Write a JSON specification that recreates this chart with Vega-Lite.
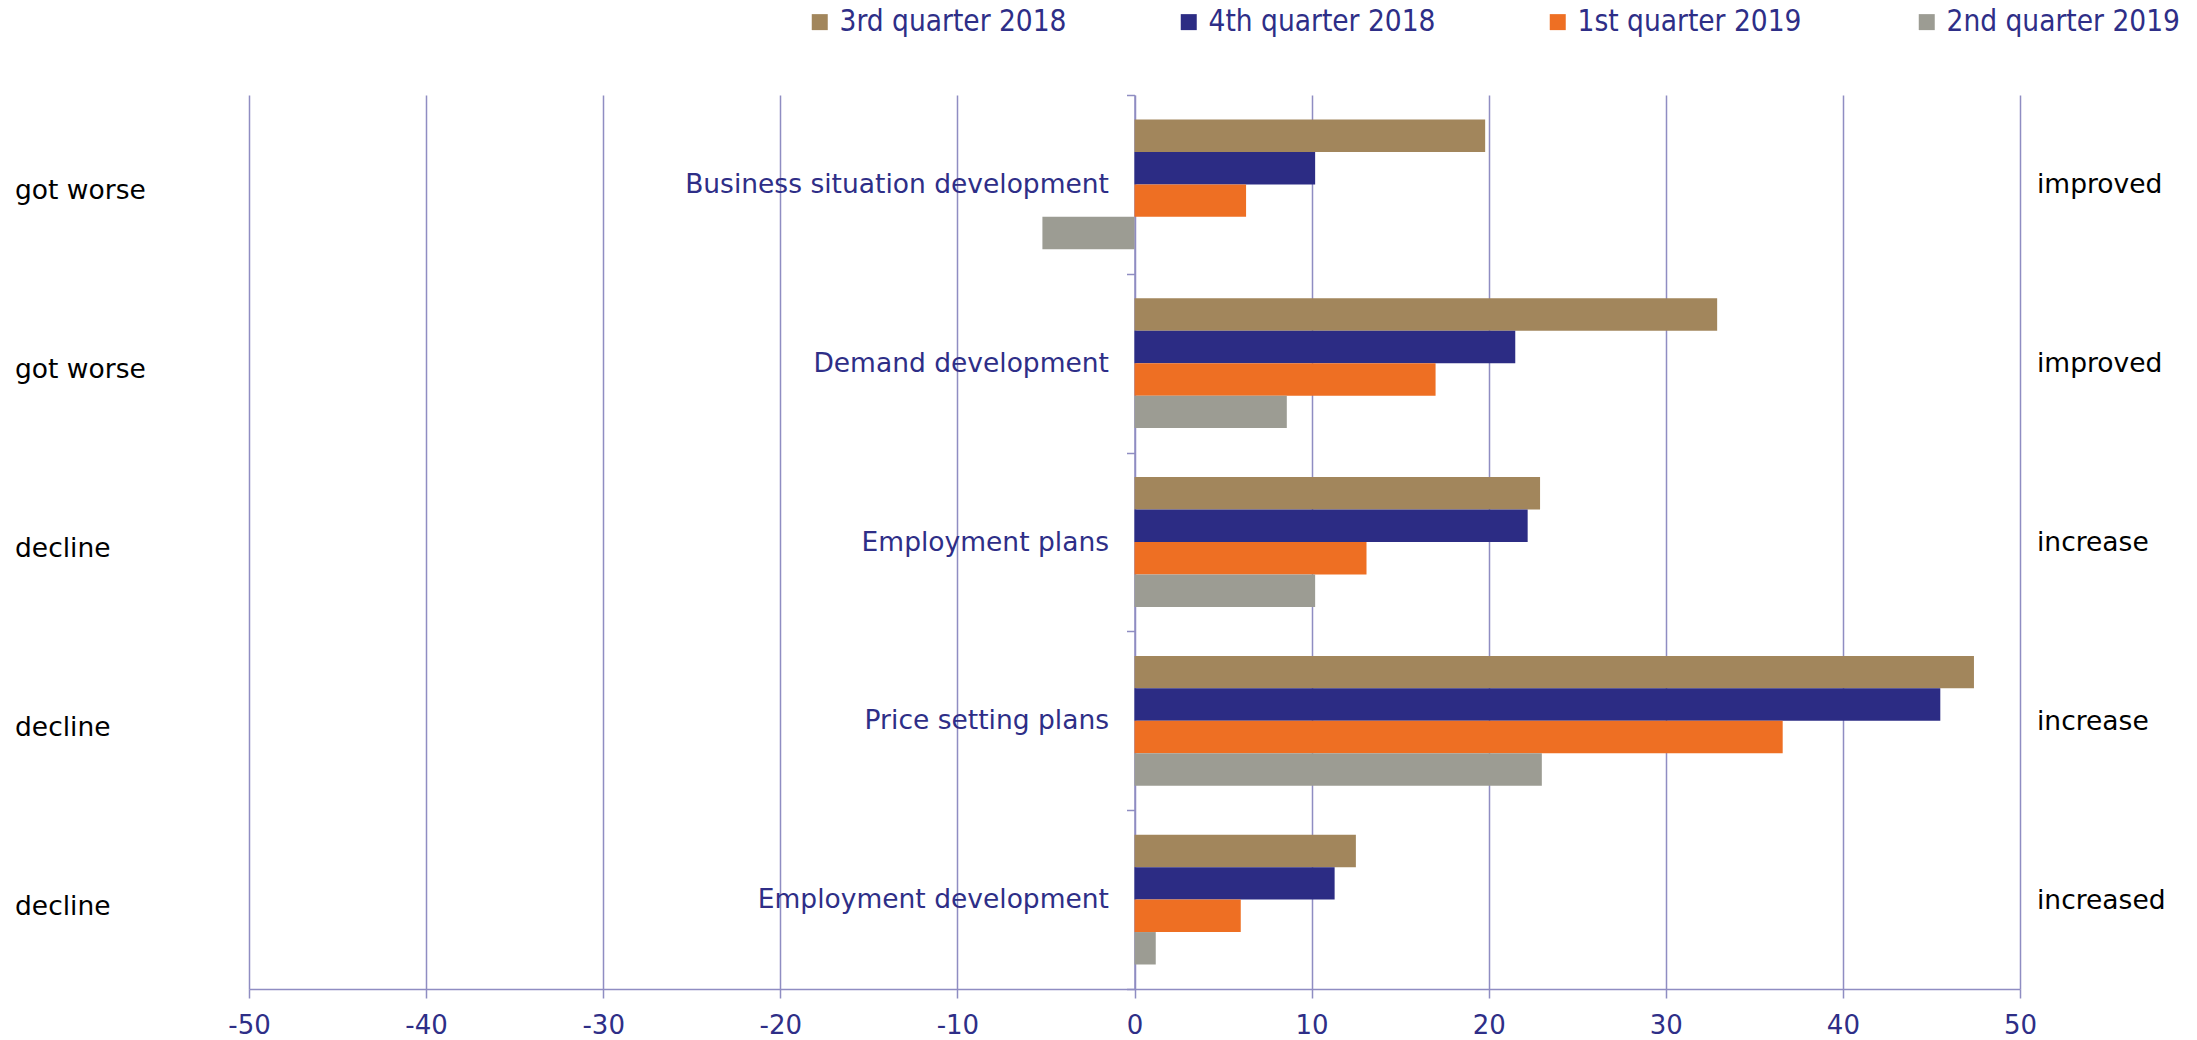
{
  "$schema": "https://vega.github.io/schema/vega-lite/v6.json",
  "autosize": {"type": "none"},
  "padding": {"left": 249, "top": 95, "right": 177, "bottom": 51},
  "width": 1771,
  "height": 894,
  "background": "white",
  "config": {"view": {"stroke": null}, "font": "DejaVu Sans"},
  "datasets": {
    "bars": [
      {"category": "Business situation development", "quarter": "3rd quarter 2018", "value": 19.8},
      {"category": "Business situation development", "quarter": "4th quarter 2018", "value": 10.2},
      {"category": "Business situation development", "quarter": "1st quarter 2019", "value": 6.3},
      {"category": "Business situation development", "quarter": "2nd quarter 2019", "value": -5.2},
      {"category": "Demand development", "quarter": "3rd quarter 2018", "value": 32.9},
      {"category": "Demand development", "quarter": "4th quarter 2018", "value": 21.5},
      {"category": "Demand development", "quarter": "1st quarter 2019", "value": 17.0},
      {"category": "Demand development", "quarter": "2nd quarter 2019", "value": 8.6},
      {"category": "Employment plans", "quarter": "3rd quarter 2018", "value": 22.9},
      {"category": "Employment plans", "quarter": "4th quarter 2018", "value": 22.2},
      {"category": "Employment plans", "quarter": "1st quarter 2019", "value": 13.1},
      {"category": "Employment plans", "quarter": "2nd quarter 2019", "value": 10.2},
      {"category": "Price setting plans", "quarter": "3rd quarter 2018", "value": 47.4},
      {"category": "Price setting plans", "quarter": "4th quarter 2018", "value": 45.5},
      {"category": "Price setting plans", "quarter": "1st quarter 2019", "value": 36.6},
      {"category": "Price setting plans", "quarter": "2nd quarter 2019", "value": 23.0},
      {"category": "Employment development", "quarter": "3rd quarter 2018", "value": 12.5},
      {"category": "Employment development", "quarter": "4th quarter 2018", "value": 11.3},
      {"category": "Employment development", "quarter": "1st quarter 2019", "value": 6.0},
      {"category": "Employment development", "quarter": "2nd quarter 2019", "value": 1.2}
    ],
    "sides": [
      {"category": "Business situation development", "left": "got worse", "right": "improved"},
      {"category": "Demand development", "left": "got worse", "right": "improved"},
      {"category": "Employment plans", "left": "decline", "right": "increase"},
      {"category": "Price setting plans", "left": "decline", "right": "increase"},
      {"category": "Employment development", "left": "decline", "right": "increased"}
    ]
  },
  "encoding": {
    "y": {
      "field": "category",
      "type": "nominal",
      "sort": ["Business situation development", "Demand development", "Employment plans", "Price setting plans", "Employment development"],
      "scale": {"paddingInner": 0, "paddingOuter": 0},
      "axis": {
        "title": null,
        "orient": "left",
        "offset": -885.5,
        "grid": false,
        "domainColor": "#8F8DC2",
        "domainWidth": 1.5,
        "tickColor": "#8F8DC2",
        "tickWidth": 1.5,
        "tickSize": 8,
        "tickBand": "extent",
        "labelColor": "#2E2E87",
        "labelFont": "DejaVu Sans",
        "labelFontSize": 26.5,
        "labelPadding": 18,
        "labelLimit": 0
      }
    }
  },
  "layer": [
    {
      "data": {"name": "bars"},
      "mark": {"type": "bar"},
      "encoding": {
        "yOffset": {
          "field": "quarter",
          "type": "nominal",
          "sort": ["3rd quarter 2018", "4th quarter 2018", "1st quarter 2019", "2nd quarter 2019"],
          "scale": {"paddingInner": 0, "paddingOuter": 0.755}
        },
        "x": {
          "field": "value",
          "type": "quantitative",
          "scale": {"domain": [-50, 50], "nice": false},
          "axis": {
            "title": null,
            "values": [-50, -40, -30, -20, -10, 0, 10, 20, 30, 40, 50],
            "labelExpr": "'' + datum.value",
            "grid": true,
            "gridColor": "#8F8DC2",
            "gridWidth": 1.5,
            "domainColor": "#8F8DC2",
            "domainWidth": 1.5,
            "tickColor": "#8F8DC2",
            "tickWidth": 1.5,
            "tickSize": 9,
            "labelColor": "#2E2E87",
            "labelFont": "DejaVu Sans",
            "labelFontSize": 26,
            "labelPadding": 14,
            "labelFlush": false
          }
        },
        "color": {
          "field": "quarter",
          "type": "nominal",
          "sort": ["3rd quarter 2018", "4th quarter 2018", "1st quarter 2019", "2nd quarter 2019"],
          "scale": {
            "domain": ["3rd quarter 2018", "4th quarter 2018", "1st quarter 2019", "2nd quarter 2019"],
            "range": ["#A2865C", "#2C2C84", "#EE6F23", "#9C9C93"]
          },
          "legend": {
            "title": null,
            "orient": "none",
            "legendX": 556,
            "legendY": -88,
            "direction": "horizontal",
            "columns": 4,
            "gridAlign": "all",
            "columnPadding": 101,
            "symbolType": "square",
            "symbolSize": 256,
            "symbolStrokeWidth": 0,
            "labelFont": "DejaVu Sans Condensed",
            "labelFontSize": 29.5,
            "labelColor": "#2E2E87",
            "labelOffset": 5,
            "labelLimit": 0
          }
        }
      }
    },
    {
      "data": {"name": "sides"},
      "mark": {"type": "text", "align": "left", "baseline": "middle", "dx": -234, "dy": 7, "fontSize": 26.5, "font": "DejaVu Sans", "color": "black"},
      "encoding": {
        "x": {"datum": -50, "type": "quantitative"},
        "text": {"field": "left"}
      }
    },
    {
      "data": {"name": "sides"},
      "mark": {"type": "text", "align": "left", "baseline": "middle", "dx": 17, "dy": 1, "fontSize": 26.5, "font": "DejaVu Sans", "color": "black"},
      "encoding": {
        "x": {"datum": 50, "type": "quantitative"},
        "text": {"field": "right"}
      }
    }
  ]
}
